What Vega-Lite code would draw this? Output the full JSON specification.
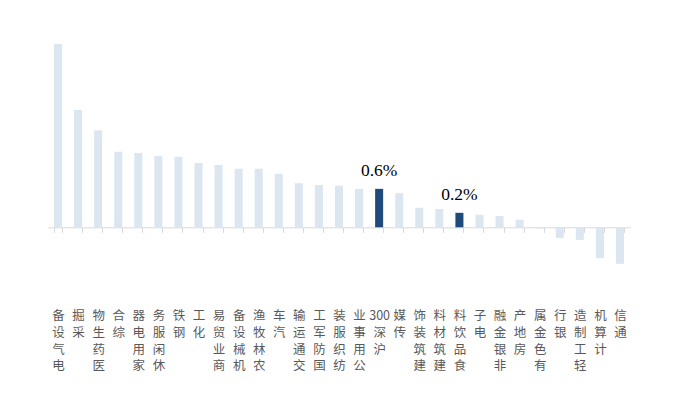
{
  "$schema": "https://vega.github.io/schema/vega-lite/v6.json",
  "width": 582,
  "height": 239.4,
  "autosize": "none",
  "padding": {"left": 48, "top": 38.3, "right": 48, "bottom": 127.3},
  "background": "white",
  "config": {"view": {"stroke": null}},
  "data": {
    "values": [
      {"industry": "电气设备", "chg": 2.91},
      {"industry": "采掘", "chg": 1.86},
      {"industry": "医药生物", "chg": 1.54},
      {"industry": "综合", "chg": 1.2},
      {"industry": "家用电器", "chg": 1.18},
      {"industry": "休闲服务", "chg": 1.13},
      {"industry": "钢铁", "chg": 1.12},
      {"industry": "化工", "chg": 1.02},
      {"industry": "商业贸易", "chg": 0.99},
      {"industry": "机械设备", "chg": 0.93},
      {"industry": "农林牧渔", "chg": 0.93},
      {"industry": "汽车", "chg": 0.85},
      {"industry": "交通运输", "chg": 0.7},
      {"industry": "国防军工", "chg": 0.67},
      {"industry": "纺织服装", "chg": 0.66},
      {"industry": "公用事业", "chg": 0.61},
      {"industry": "沪深300", "chg": 0.61},
      {"industry": "传媒", "chg": 0.54},
      {"industry": "建筑装饰", "chg": 0.31},
      {"industry": "建筑材料", "chg": 0.29},
      {"industry": "食品饮料", "chg": 0.23},
      {"industry": "电子", "chg": 0.2},
      {"industry": "非银金融", "chg": 0.18},
      {"industry": "房地产", "chg": 0.12},
      {"industry": "有色金属", "chg": -0.02},
      {"industry": "银行", "chg": -0.17},
      {"industry": "轻工制造", "chg": -0.2},
      {"industry": "计算机", "chg": -0.49},
      {"industry": "通信", "chg": -0.58}
    ]
  },
  "encoding": {
    "x": {
      "field": "industry",
      "type": "nominal",
      "sort": null,
      "scale": {"paddingInner": 0.6, "paddingOuter": 0.3},
      "axis": {
        "title": null,
        "offset": -50.4,
        "tickBand": "extent",
        "domainColor": "#d9d9d9",
        "tickColor": "#d9d9d9",
        "tickSize": 5,
        "labelAngle": 0,
        "labelAlign": "center",
        "labelBaseline": "top",
        "labelPadding": 77.5,
        "labelOverlap": false,
        "labelBound": false,
        "labelFont": "Noto Sans CJK SC",
        "labelFontSize": 12.5,
        "labelLineHeight": 16.7,
        "labelColor": "#595959",
        "labelExpr": "datum.label == '沪深300' ? ['300', '深', '沪'] : reverse(split(datum.label, ''))"
      }
    },
    "y": {
      "field": "chg",
      "type": "quantitative",
      "scale": {"domain": [-0.8, 3.0], "nice": false, "zero": true},
      "axis": null
    }
  },
  "layer": [
    {
      "mark": {"type": "bar"},
      "encoding": {
        "color": {
          "condition": {"test": "datum.industry == '沪深300' || datum.industry == '食品饮料'", "value": "#1f4a7c"},
          "value": "#dce6f1"
        }
      }
    },
    {
      "transform": [
        {"filter": "datum.industry == '沪深300' || datum.industry == '食品饮料'"},
        {"calculate": "format(datum.chg, '.1f') + '%'", "as": "lbl"}
      ],
      "mark": {
        "type": "text",
        "baseline": "alphabetic",
        "dy": -13,
        "font": "Liberation Serif",
        "fontSize": 17.5,
        "color": "black"
      },
      "encoding": {"text": {"field": "lbl"}}
    }
  ]
}
